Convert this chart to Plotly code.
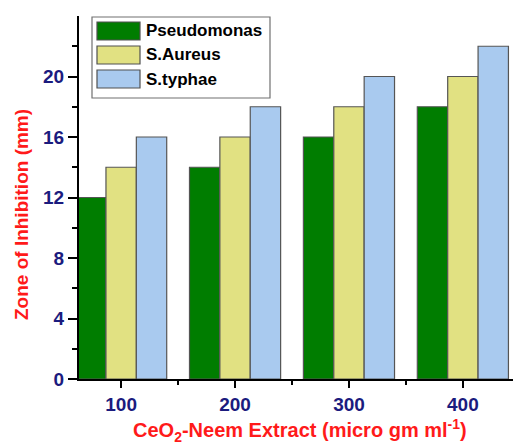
import plotly.graph_objects as go

# Concentration of CeO2-Neem extract (micro gm/ml)
concentrations = [100, 200, 300, 400]

# Zone of inhibition (mm) for each organism
pseudomonas = [12, 14, 16, 18]
s_aureus = [14, 16, 18, 20]
s_typhae = [16, 18, 20, 22]

series_names = ["Pseudomonas", "S.Aureus", "S.typhae"]
series_values = [pseudomonas, s_aureus, s_typhae]
series_colors = ["#007d00", "#e1e182", "#a9caef"]

y_ticks = [0, 4, 8, 12, 16, 20]
x_ticks = [100, 200, 300, 400]

FONT = "Arial, 'Liberation Sans', sans-serif"
NAVY = "#1b1b7e"
RED = "#ff1a1a"

fig = go.Figure()
for name, vals, col in zip(series_names, series_values, series_colors):
    fig.add_trace(go.Bar(
        x=concentrations, y=vals, name=name,
        marker=dict(color=col, line=dict(color="#555555", width=1.2)),
        showlegend=False,
    ))

# Pixel -> paper coordinate helpers for the plot area
W, H, L, B = 434.0, 363.0, 79.0, 379.0
def px(x):
    return (x - L) / W
def py(y):
    return (B - y) / H

# Hand-drawn legend box with wide swatches
shapes = [dict(type="rect", xref="paper", yref="paper",
               x0=px(92), x1=px(270), y0=py(98), y1=py(17),
               line=dict(color="#707070", width=1.2), fillcolor="white", layer="above")]
annotations = []
rows = [(22, 40), (46, 64), (70, 88)]
for (t, b), name, col in zip(rows, series_names, series_colors):
    shapes.append(dict(type="rect", xref="paper", yref="paper",
                       x0=px(97), x1=px(140), y0=py(b), y1=py(t),
                       line=dict(color="#505050", width=1.2), fillcolor=col, layer="above"))
    annotations.append(dict(xref="paper", yref="paper", x=px(144), y=py((t + b) / 2),
                            text=f"<b>{name}</b>", showarrow=False, xanchor="left",
                            yanchor="middle", font=dict(family=FONT, size=17, color="black")))

# Axis titles
annotations.append(dict(xref="paper", yref="paper", x=px(300), y=py(430),
                        text="<b>CeO<sub>2</sub>-Neem Extract (micro gm ml<sup>-1</sup>)</b>",
                        showarrow=False, xanchor="center", yanchor="middle",
                        font=dict(family=FONT, size=20, color=RED)))
annotations.append(dict(xref="paper", yref="paper", x=px(21), y=py(215),
                        text="<b>Zone of Inhibition (mm)</b>", textangle=-90,
                        showarrow=False, xanchor="center", yanchor="middle",
                        font=dict(family=FONT, size=19, color=RED)))

fig.update_layout(
    width=513, height=445,
    margin=dict(l=79, r=0, t=16, b=66),
    paper_bgcolor="white", plot_bgcolor="white",
    barmode="group", bargap=0.2, bargroupgap=0,
    shapes=shapes, annotations=annotations,
    xaxis=dict(
        range=[63, 444], tickvals=x_ticks,
        ticktext=[f"<b>{v}</b>" for v in x_ticks],
        ticks="outside", ticklen=7, tickwidth=2, tickcolor="black",
        minor=dict(tickvals=[150, 250, 350], ticks="outside", ticklen=4, tickwidth=2, tickcolor="black"),
        showline=True, linecolor="black", linewidth=2, showgrid=False, zeroline=False,
        tickfont=dict(family=FONT, size=19, color=NAVY),
    ),
    yaxis=dict(
        range=[0, 24], tickvals=y_ticks,
        ticktext=[f"<b>{v}</b>" for v in y_ticks],
        ticks="outside", ticklen=9, tickwidth=2, tickcolor="black",
        minor=dict(tickvals=[2, 6, 10, 14, 18, 22], ticks="outside", ticklen=5, tickwidth=2, tickcolor="black"),
        showline=True, linecolor="black", linewidth=2, showgrid=False, zeroline=False,
        tickfont=dict(family=FONT, size=19, color=NAVY),
    ),
)

fig.write_html("out.html")
